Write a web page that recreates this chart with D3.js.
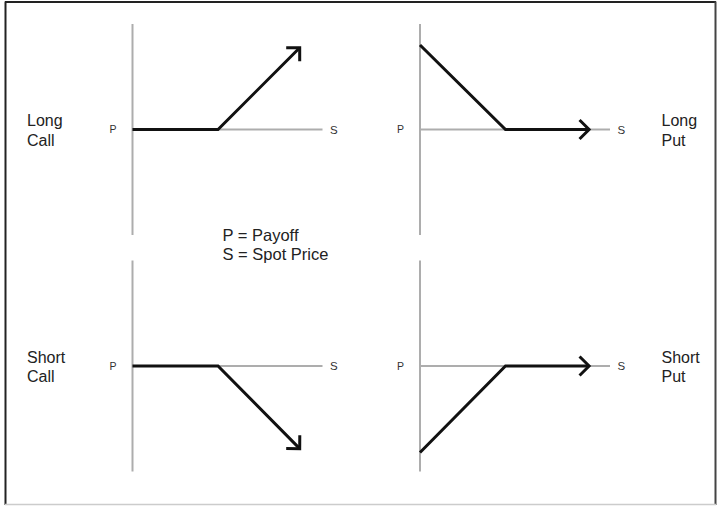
<!DOCTYPE html>
<html>
<head>
<meta charset="utf-8">
<script src="https://cdn.jsdelivr.net/npm/d3@7"></script>
<style>
  html, body { margin: 0; padding: 0; background: #fff; }
  svg { display: block; }
  text { font-family: "Liberation Sans", Arial, Helvetica, sans-serif; }
</style>
</head>
<body>
<svg id="chart" width="717" height="506"></svg>
<script>
// ---- data ----
const strategies = ["Long Call", "Long Put", "Short Call", "Short Put"];
const labelLines = [["Long", "Call"], ["Long", "Put"], ["Short", "Call"], ["Short", "Put"]];
const spotPoints = [[0, 45, 88], [0, 45, 89], [0, 45, 88], [0, 45, 89]];
const payoffValues = [[0, 0, 43], [44.5, 0, 0], [0, 0, -43.5], [-45.5, 0, 0]];
const axisLabels = ["P", "S"];
const legendLines = ["P = Payoff", "S = Spot Price"];

// ---- layout ----
const W = 717, H = 506;
const svg = d3.select("#chart");

// frame
svg.append("line").attr("x1", 5.5).attr("x2", 5.5).attr("y1", 1.5).attr("y2", 505).attr("stroke", "#222").attr("stroke-width", 2);
svg.append("line").attr("x1", 5).attr("x2", 716).attr("y1", 2).attr("y2", 2).attr("stroke", "#222").attr("stroke-width", 2);
svg.append("line").attr("x1", 715.5).attr("x2", 715.5).attr("y1", 1.5).attr("y2", 505).attr("stroke", "#444").attr("stroke-width", 2);
svg.append("line").attr("x1", 5).attr("x2", 716).attr("y1", 504.5).attr("y2", 504.5).attr("stroke", "#ccc").attr("stroke-width", 1.5);

const originsX = [132.5, 420, 132.5, 420];
const originsY = [129.5, 129.5, 366, 366];
const labelSide = ["left", "right", "left", "right"];
const axisLen = 190;   // px for 100 units of spot
const vHalf = 105.5;   // vertical axis half length

strategies.forEach((name, i) => {
  const ox = originsX[i], oy = originsY[i];
  const x = d3.scaleLinear().domain([0, 100]).range([ox, ox + axisLen]);
  const y = d3.scaleLinear().domain([-vHalf / 1.9, vHalf / 1.9]).range([oy + vHalf, oy - vHalf]);
  const g = svg.append("g").attr("class", "panel");

  // axes
  g.append("line").attr("x1", x(0)).attr("x2", x(0)).attr("y1", y.range()[0]).attr("y2", y.range()[1])
    .attr("stroke", "#adadad").attr("stroke-width", 2);
  g.append("line").attr("x1", x(0)).attr("x2", x(100)).attr("y1", y(0)).attr("y2", y(0))
    .attr("stroke", "#adadad").attr("stroke-width", 2);

  // axis letters
  g.append("text").attr("x", x(0) - 19.5).attr("y", y(0) + 3.8).attr("text-anchor", "middle")
    .attr("font-size", 10.5).attr("fill", "#333").text(axisLabels[0]);
  g.append("text").attr("x", x(100) + 7.5).attr("y", y(0) + 4.2).attr("text-anchor", "start")
    .attr("font-size", 11.5).attr("fill", "#333").text(axisLabels[1]);

  // payoff line
  const pts = spotPoints[i].map((s, k) => [x(s), y(payoffValues[i][k])]);
  g.append("path").attr("d", d3.line()(pts)).attr("fill", "none")
    .attr("stroke", "#111").attr("stroke-width", 3).attr("stroke-linejoin", "miter");

  // open arrowhead at the end
  const [x1, y1] = pts[pts.length - 2], [x2, y2] = pts[pts.length - 1];
  const ang = Math.atan2(y2 - y1, x2 - x1);
  const arm = 13.5, spread = Math.PI / 4;
  const a1 = [x2 - arm * Math.cos(ang - spread), y2 - arm * Math.sin(ang - spread)];
  const a2 = [x2 - arm * Math.cos(ang + spread), y2 - arm * Math.sin(ang + spread)];
  g.append("path").attr("d", d3.line()([a1, [x2, y2], a2])).attr("fill", "none")
    .attr("stroke", "#111").attr("stroke-width", 3).attr("stroke-linejoin", "miter").attr("stroke-linecap", "butt");

  // strategy label
  const lx = labelSide[i] === "left" ? 27 : 661.5;
  const t = g.append("text").attr("x", lx).attr("font-size", 16).attr("fill", "#222");
  labelLines[i].forEach((ln, k) => {
    t.append("tspan").attr("x", lx).attr("y", y(0) - 3.5 + k * 19.5).text(ln);
  });
});

// legend
const leg = svg.append("text").attr("font-size", 16.5).attr("fill", "#222");
legendLines.forEach((ln, k) => {
  leg.append("tspan").attr("x", 222.5).attr("y", 241 + k * 19).text(ln);
});
</script>
</body>
</html>
